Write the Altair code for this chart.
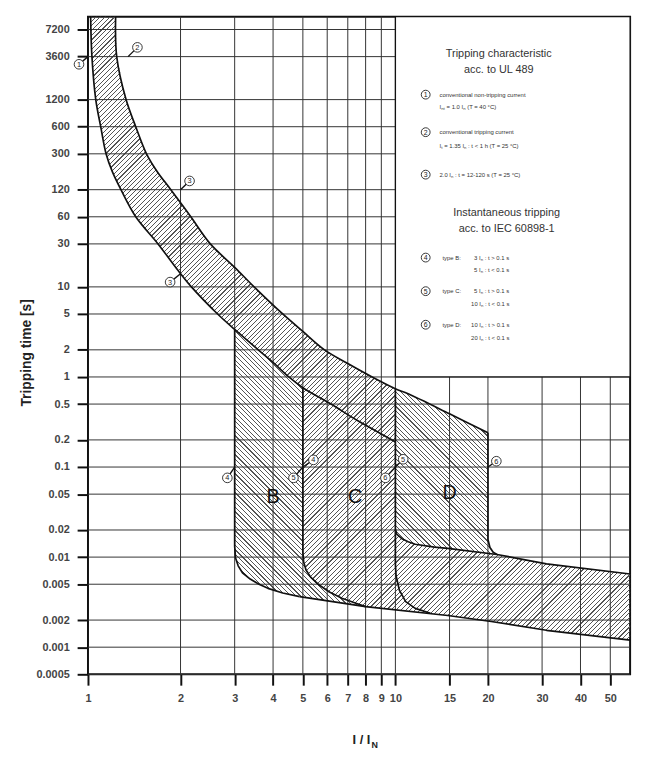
import math
import altair as alt
import pandas as pd

# ---------------- values ----------------
x_ticks = [1, 2, 3, 4, 5, 6, 7, 8, 9, 10, 15, 20, 30, 40, 50]
y_ticks = [7200, 3600, 1200, 600, 300, 120, 60, 30, 10, 5, 2, 1, 0.5, 0.2,
           0.1, 0.05, 0.02, 0.01, 0.005, 0.002, 0.001, 0.0005]
x_domain = [1, 58]
y_domain = [0.0005, 10000]

# thermal band: conventional non-tripping (lower) and tripping (upper) curve
lower_I = [1.02, 1.03, 1.06, 1.10, 1.145, 1.20, 1.28, 1.43, 1.69, 1.97, 2.17, 2.64,
           3.0, 3.58, 4.0, 4.5, 5.0, 6.17, 7.5, 9.75, 10.0]
lower_t = [10000, 3600, 1200, 600, 300, 190, 120, 60, 30, 15, 10, 5,
           3.37, 2.0, 1.45, 1.0, 0.76, 0.5, 0.33, 0.2, 0.19]
upper_I = [1.23, 1.24, 1.33, 1.43, 1.55, 1.68, 1.86, 2.16, 2.5, 3.0, 3.47, 4.3, 5.0,
           5.88, 7.0, 8.4, 10.0, 11.0, 15.0, 20.0]
upper_t = [10000, 3600, 1200, 600, 300, 190, 120, 60, 30, 16.5, 10, 5, 3.2,
           2.0, 1.41, 1.0, 0.74, 0.65, 0.39, 0.24]

# instantaneous tripping boundaries
b_I = [3.0, 3.0, 3.02, 3.08, 3.18, 3.37, 3.6, 3.85, 4.3, 4.88]
b_t = [3.37, 0.0132, 0.0098, 0.0080, 0.0067, 0.0057, 0.0050, 0.0045, 0.0040, 0.00364]
c_I = [5.0, 5.0, 5.03, 5.12, 5.3, 5.65, 6.1, 6.7, 7.4, 8.0]
c_t = [0.76, 0.0114, 0.0088, 0.0072, 0.0060, 0.0049, 0.0041, 0.0035, 0.0031, 0.00282]
d_I = [10.0, 10.0, 10.05, 10.3, 10.8, 11.6, 13.0]
d_t = [0.74, 0.0085, 0.0062, 0.0043, 0.0032, 0.0027, 0.00238]
dr_I = [20.0, 20.0, 20.3, 20.8, 21.4]
dr_t = [0.24, 0.0157, 0.0128, 0.0113, 0.0107]
ub_I = [10.0, 10.1, 10.5, 11.0, 11.6, 13.4, 14.8, 21.4, 31.0, 58.0]
ub_t = [0.0203, 0.0180, 0.0160, 0.0148, 0.0139, 0.0129, 0.0125, 0.0107, 0.0084, 0.0065]
lb_I = [4.88, 8.0, 14.8, 20.5, 31.0, 58.0]
lb_t = [0.00364, 0.00282, 0.00225, 0.00193, 0.00154, 0.00120]

# circled markers (circle centre -> point referred to)
mark_label = ["1", "2", "3", "3", "4", "4", "5", "5", "6", "6"]
mark_cI = [0.935, 1.448, 2.14, 1.85, 2.84, 5.41, 4.66, 10.6, 9.28, 21.3]
mark_ct = [2960, 4560, 150, 11.3, 0.0758, 0.12, 0.0758, 0.122, 0.0758, 0.116]
mark_tI = [1.0, 1.35, 2.0, 2.0, 3.0, 5.0, 5.0, 10.0, 10.0, 20.0]
mark_tt = [3600, 3600, 120, 14, 0.1, 0.1, 0.1, 0.1, 0.1, 0.1]

letters = ["B", "C", "D"]
letter_I = [4.0, 7.4, 15.0]
letter_t = [0.0467, 0.0467, 0.0517]

box_I = [10, 58]
box_t = [1, 10000]

# ---------------- layout / style ----------------
W, H = 549, 666
FONT = "Liberation Sans, Arial, Noto Sans, DejaVu Sans, sans-serif"


def px(i):
    return W * math.log10(i / x_domain[0]) / math.log10(x_domain[1] / x_domain[0])


def py(t):
    return H * math.log10(y_domain[1] / t) / math.log10(y_domain[1] / y_domain[0])


def hatch(pts, direction, spacing=3.4, lw=0.8, color="#555"):
    xs = [px(i) for i, _ in pts]
    ys = [py(t) for _, t in pts]
    w = max(xs) - min(xs)
    h = max(ys) - min(ys)
    lam = (w + h) / (w * w + h * h)
    n = max(1, int(round((w + h) / (math.sqrt(2) * spacing))))
    clear = "rgba(255,255,255,0)"
    stops = []
    for k in range(n):
        a = round(k / n, 6)
        b = round((k + lw / spacing) / n, 6)
        stops += [alt.GradientStop(offset=a, color=clear),
                  alt.GradientStop(offset=a, color=color),
                  alt.GradientStop(offset=b, color=color),
                  alt.GradientStop(offset=b, color=clear)]
    if direction == "/":
        x1, y1, x2, y2 = 0, 0, lam * w, lam * h
    else:
        x1, y1, x2, y2 = 0, 1, lam * w, 1 - lam * h
    return alt.LinearGradient(gradient="linear", stops=stops,
                              x1=x1, y1=y1, x2=x2, y2=y2)


xaxis = alt.Axis(values=x_ticks, format="~g", grid=False, domain=False,
                 tickSize=11, tickWidth=2, tickColor="#111",
                 labelFont=FONT, labelFontSize=11, labelFontWeight="bold",
                 labelColor="#444", labelPadding=8, labelOverlap=False,
                 labelFlush=False, title=None)
yaxis = alt.Axis(values=y_ticks, format="~g", grid=False, domain=False,
                 tickSize=11, tickWidth=2, tickColor="#111",
                 labelFont=FONT, labelFontSize=11, labelFontWeight="bold",
                 labelColor="#444", labelPadding=8, labelOverlap=False,
                 labelFlush=False, title="Tripping time [s]", titleFont=FONT,
                 titleFontSize=14, titleFontWeight="bold", titleColor="#222",
                 titleAngle=270, titleAlign="center", titleBaseline="middle",
                 titleX=-62, titleY=340)


def X(f):
    return alt.X(f, type="quantitative",
                 scale=alt.Scale(type="log", domain=x_domain, nice=False), axis=xaxis)


def Y(f):
    return alt.Y(f, type="quantitative",
                 scale=alt.Scale(type="log", domain=y_domain, nice=False), axis=yaxis)


def pts(I, t):
    return list(zip(I, t))


L = pts(lower_I, lower_t)
U = pts(upper_I, upper_t)
Bc = pts(b_I, b_t)
Cc = pts(c_I, c_t)
Dc = pts(d_I, d_t)
DR = pts(dr_I, dr_t)
UB = pts(ub_I, ub_t)
LB = pts(lb_I, lb_t)

# region outlines built from the read boundaries
thermal_poly = [p for p in U if p[0] <= 10] + L[::-1]
b_poly = ([p for p in L if 3 <= p[0] <= 5] + Cc[1:] +
          [p for p in LB if p[0] < 8][::-1] + Bc[1:][::-1])
c_poly = ([p for p in L if 5 <= p[0] <= 10] + Dc[1:] +
          [p for p in LB if 8 <= p[0] < 13][::-1] + Cc[1:][::-1])
d_poly = [p for p in U if 10 <= p[0] <= 20] + DR[1:] + [p for p in UB if p[0] <= 21.4][::-1]
bottom_poly = UB + [p for p in LB if p[0] >= 14.8][::-1] + Dc[1:][::-1]


def poly_layer(poly, direction):
    df = pd.DataFrame({"I": [p[0] for p in poly], "t": [p[1] for p in poly],
                       "seq": list(range(len(poly)))})
    return alt.Chart(df).mark_line(fill=hatch(poly, direction), strokeOpacity=0,
                                   strokeWidth=0).encode(
        x=X("I"), y=Y("t"), order="seq:Q")


layers = [poly_layer(thermal_poly, "/"), poly_layer(b_poly, "\\"),
          poly_layer(c_poly, "/"), poly_layer(d_poly, "\\"),
          poly_layer(bottom_poly, "/")]

# grid
layers.append(alt.Chart(pd.DataFrame({"I": x_ticks[1:]})).mark_rule(
    color="#333", strokeWidth=1).encode(x=X("I"), y=alt.value(0), y2=alt.value(H)))
layers.append(alt.Chart(pd.DataFrame({"t": y_ticks})).mark_rule(
    color="#333", strokeWidth=1).encode(y=Y("t"), x=alt.value(0), x2=alt.value(W)))

# boundary curves: smooth thermal curves, piecewise instantaneous ones
rows_s, rows_p = [], []
for name, cur in [("lower", L), ("upper", U)]:
    for k, (i, t) in enumerate(cur):
        rows_s.append({"curve": name, "I": i, "t": t, "seq": k})
for name, cur in [("b", Bc), ("c", Cc), ("d", Dc), ("dr", DR), ("ub", UB), ("lb", LB)]:
    for k, (i, t) in enumerate(cur):
        rows_p.append({"curve": name, "I": i, "t": t, "seq": k})
layers.append(alt.Chart(pd.DataFrame(rows_s)).mark_line(
    color="#111", strokeWidth=1.7, interpolate="catmull-rom").encode(
    x=X("I"), y=Y("t"), detail="curve:N", order="seq:Q"))
layers.append(alt.Chart(pd.DataFrame(rows_p)).mark_line(
    color="#111", strokeWidth=1.7, strokeJoin="round").encode(
    x=X("I"), y=Y("t"), detail="curve:N", order="seq:Q"))

# legend box
layers.append(alt.Chart(pd.DataFrame({"x1": [box_I[0]], "x2": [box_I[1]],
                                      "y1": [box_t[0]], "y2": [box_t[1]]})).mark_rect(
    fill="white", stroke="#111", strokeWidth=1.3).encode(
    x=X("x1"), x2="x2", y=Y("y1"), y2="y2"))

one = pd.DataFrame({"k": [0]})


def txt(s, x, y, size, align="left", weight="normal", color="#333", baseline="middle"):
    return alt.Chart(one).mark_text(font=FONT, fontSize=size, fontWeight=weight,
                                    color=color, align=align, baseline=baseline).encode(
        x=alt.value(x), y=alt.value(y), text=alt.value(s))


def circ(d, x, y):
    c = alt.Chart(one).mark_point(shape="circle", filled=True, fill="white",
                                  stroke="#222", strokeWidth=0.9, size=80,
                                  opacity=1).encode(x=alt.value(x), y=alt.value(y))
    return [c, txt(d, x, y + 0.5, 7, align="center", color="#222")]


SM = 6
legend_texts = [
    ("Tripping characteristic", 416, 38, 11, "center"),
    ("acc. to UL 489", 416, 54, 11, "center"),
    ("conventional non-tripping current", 356, 79, SM, "left"),
    ("Iₙₜ = 1.0 Iₙ   (T = 40 °C)", 356, 92, SM, "left"),
    ("conventional tripping current", 356, 117, SM, "left"),
    ("Iₜ = 1.35 Iₙ : t < 1 h (T = 25 °C)", 356, 131, SM, "left"),
    ("2.0 Iₙ : t = 12-120 s (T = 25 °C)", 356, 160, SM, "left"),
    ("Instantaneous tripping", 424, 199, 11, "center"),
    ("acc. to IEC 60898-1", 424, 215, 11, "center"),
    ("type B:", 359, 244, SM, "left"),
    ("3 Iₙ : t > 0.1 s", 391, 244, SM, "left"),
    ("5 Iₙ : t < 0.1 s", 391, 257, SM, "left"),
    ("type C:", 359, 278, SM, "left"),
    ("5 Iₙ : t > 0.1 s", 391, 278, SM, "left"),
    ("10 Iₙ : t < 0.1 s", 388, 291, SM, "left"),
    ("type D:", 359, 312, SM, "left"),
    ("10 Iₙ : t > 0.1 s", 388, 312, SM, "left"),
    ("20 Iₙ : t < 0.1 s", 388, 325, SM, "left"),
]
for s, x, y, size, al in legend_texts:
    layers.append(txt(s, x, y, size, align=al))
for d, y in [("1", 79), ("2", 117), ("3", 160), ("4", 244), ("5", 278), ("6", 312)]:
    layers += circ(d, 342, y)

# markers on the chart
mdf = pd.DataFrame({"label": mark_label, "cI": mark_cI, "ct": mark_ct,
                    "tI": mark_tI, "tt": mark_tt})
layers.append(alt.Chart(mdf).mark_rule(color="#111", strokeWidth=1.4).encode(
    x=X("cI"), y=Y("ct"), x2="tI", y2="tt"))
layers.append(alt.Chart(mdf).mark_point(shape="circle", filled=True, fill="white",
                                        stroke="#222", strokeWidth=0.9, size=95,
                                        opacity=1).encode(x=X("cI"), y=Y("ct")))
layers.append(alt.Chart(mdf).mark_text(font=FONT, fontSize=7.5, color="#222",
                                       baseline="middle", dy=0.5).encode(
    x=X("cI"), y=Y("ct"), text="label:N"))

# region letters
layers.append(alt.Chart(pd.DataFrame({"letter": letters, "I": letter_I, "t": letter_t}))
              .mark_text(font=FONT, fontSize=20, color="#111", baseline="middle")
              .encode(x=X("I"), y=Y("t"), text="letter:N"))

# x axis title  I / I_N
layers.append(txt("I / I", 286, 737, 13, align="right", weight="bold", color="#222",
                  baseline="alphabetic"))
layers.append(txt("N", 287, 741, 9, align="left", weight="bold", color="#222",
                  baseline="alphabetic"))

chart = alt.layer(*layers).properties(
    width=W, height=H,
    padding={"left": 81, "top": 4, "right": 8, "bottom": 80},
    autosize=alt.AutoSizeParams(type="none"),
).configure_view(stroke="#111", strokeWidth=2)

chart.save("out.html", embed_options={"renderer": "svg", "actions": False})
